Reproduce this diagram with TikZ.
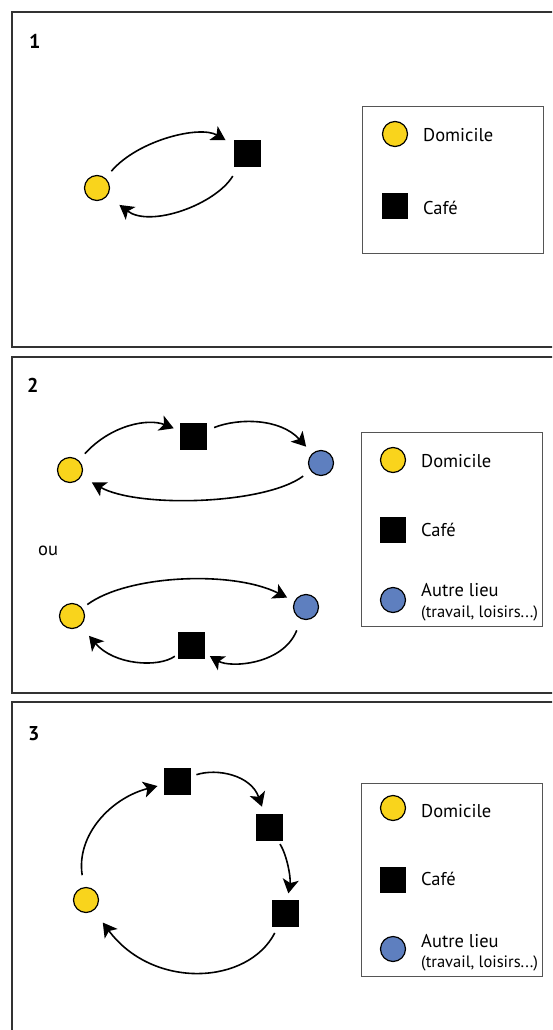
\documentclass[tikz,border=0pt]{standalone}
\usepackage{fontspec}
\setmainfont{PT Sans}
\usetikzlibrary{arrows.meta}
\definecolor{dom}{HTML}{F9D41C}
\definecolor{autre}{HTML}{5E7FBF}
\definecolor{framec}{HTML}{333333}
\definecolor{legc}{HTML}{555555}
\begin{document}
\begin{tikzpicture}[x=1pt,y=-1pt,
 home/.style={circle,draw=black,line width=1.2pt,fill=dom,minimum size=25pt,inner sep=0pt},
 other/.style={home,fill=autre},
 cafe/.style={rectangle,fill=black,minimum size=27pt,inner sep=0pt},
 legcafe/.style={rectangle,fill=black,minimum size=26pt,inner sep=0pt},
 frame/.style={draw=framec,line width=2pt},
 legbox/.style={draw=legc,line width=1pt},
 flow/.style={line width=1.6pt,-{Stealth[length=14pt,width=16pt,inset=3.5pt]}},
 num/.style={font=\fontsize{20}{20}\selectfont\bfseries,anchor=base west,inner sep=0pt},
 lab/.style={font=\fontsize{18.5}{18}\selectfont,anchor=base west,inner sep=0pt},
 sub/.style={font=\fontsize{16.5}{16}\selectfont,anchor=base west,inner sep=0pt},
]
\clip (0,0) rectangle (552,1030);
\fill[white] (0,0) rectangle (552,1030);

% frames
\draw[frame] (12,12) rectangle (620,347);
\draw[frame] (12,357) rectangle (620,693);
\draw[frame] (12,702) rectangle (620,1100);

% ---------- panel 1
\node[num] (n1) at (29,49) {1};
\node[home] (Y1) at (97,188) {};
\node[cafe] (C1) at (247,153) {};
\draw[flow,shorten <=9pt,shorten >=9pt] (Y1) .. controls (138,140) and (200,125) .. (C1);
\draw[flow,shorten <=11pt,shorten >=15pt] (C1) .. controls (215,205) and (150,228) .. (Y1);

\draw[legbox] (362,107) rectangle (543,253);
\node[home] (L1a) at (395,134) {};
\node[lab] (T1a) at (423,142) {Domicile};
\node[legcafe] (L1b) at (395,206) {};
\node[lab] (T1b) at (423,214) {Café};

% ---------- panel 2
\node[num] (n2) at (27,392) {2};
\node[home] (Y2a) at (70,470) {};
\node[cafe] (C2a) at (193,436) {};
\node[other] (B2a) at (321,463) {};
\draw[flow,shorten <=9pt,shorten >=6pt] (Y2a) .. controls (111,425) and (148,418) .. (C2a);
\draw[flow,shorten <=8pt,shorten >=9pt] (C2a) .. controls (238,418) and (280,418) .. (B2a);
\draw[flow,shorten <=9pt,shorten >=12pt] (B2a) .. controls (264,505) and (137,508) .. (Y2a);

\node[lab] (ou) at (38,555) {ou};

\node[home] (Y2b) at (72,616) {};
\node[other] (B2b) at (306,607) {};
\node[cafe] (C2b) at (191,645) {};
\draw[flow,shorten <=6pt,shorten >=8pt] (Y2b) .. controls (127,575) and (232,570) .. (B2b);
\draw[flow,shorten <=12pt,shorten >=6pt] (B2b) .. controls (283,665) and (230,668) .. (C2b);
\draw[flow,shorten <=3pt,shorten >=13pt] (C2b) .. controls (158,668) and (114,665) .. (Y2b);

\draw[legbox] (361,432) rectangle (542,626);
\node[home] (L2a) at (393,460) {};
\node[lab] (T2a) at (421,467) {Domicile};
\node[legcafe] (L2b) at (393,530) {};
\node[lab] (T2b) at (421,536) {Café};
\node[other] (L2c) at (393,600) {};
\node[lab] (T2c) at (421,596) {Autre lieu};
\node[sub] (T2d) at (421,617) {(travail, loisirs...)};

% ---------- panel 3
\node[num] (n3) at (28,740) {3};
\node[home] (Y3) at (86,900) {};
\node[cafe] (S1) at (177,781) {};
\node[cafe] (S2) at (269,827) {};
\node[cafe] (S3) at (285,913) {};
\draw[flow,shorten <=12pt,shorten >=6pt] (Y3) .. controls (76,835) and (111,798) .. (S1);
\draw[flow,shorten <=6pt,shorten >=7pt] (S1) .. controls (217,768) and (251,775) .. (S2);
\draw[flow,shorten <=4pt,shorten >=6pt] (S2) .. controls (287,855) and (291,878) .. (S3);
\draw[flow,shorten <=7pt,shorten >=15pt] (S3) .. controls (248,985) and (153,990) .. (Y3);

\draw[legbox] (361,783) rectangle (542,976);
\node[home] (L3a) at (393,808) {};
\node[lab] (T3a) at (421,817) {Domicile};
\node[legcafe] (L3b) at (393,880) {};
\node[lab] (T3b) at (421,885) {Café};
\node[other] (L3c) at (393,949) {};
\node[lab] (T3c) at (421,947) {Autre lieu};
\node[sub] (T3d) at (421,967) {(travail, loisirs...)};
\end{tikzpicture}
\end{document}
